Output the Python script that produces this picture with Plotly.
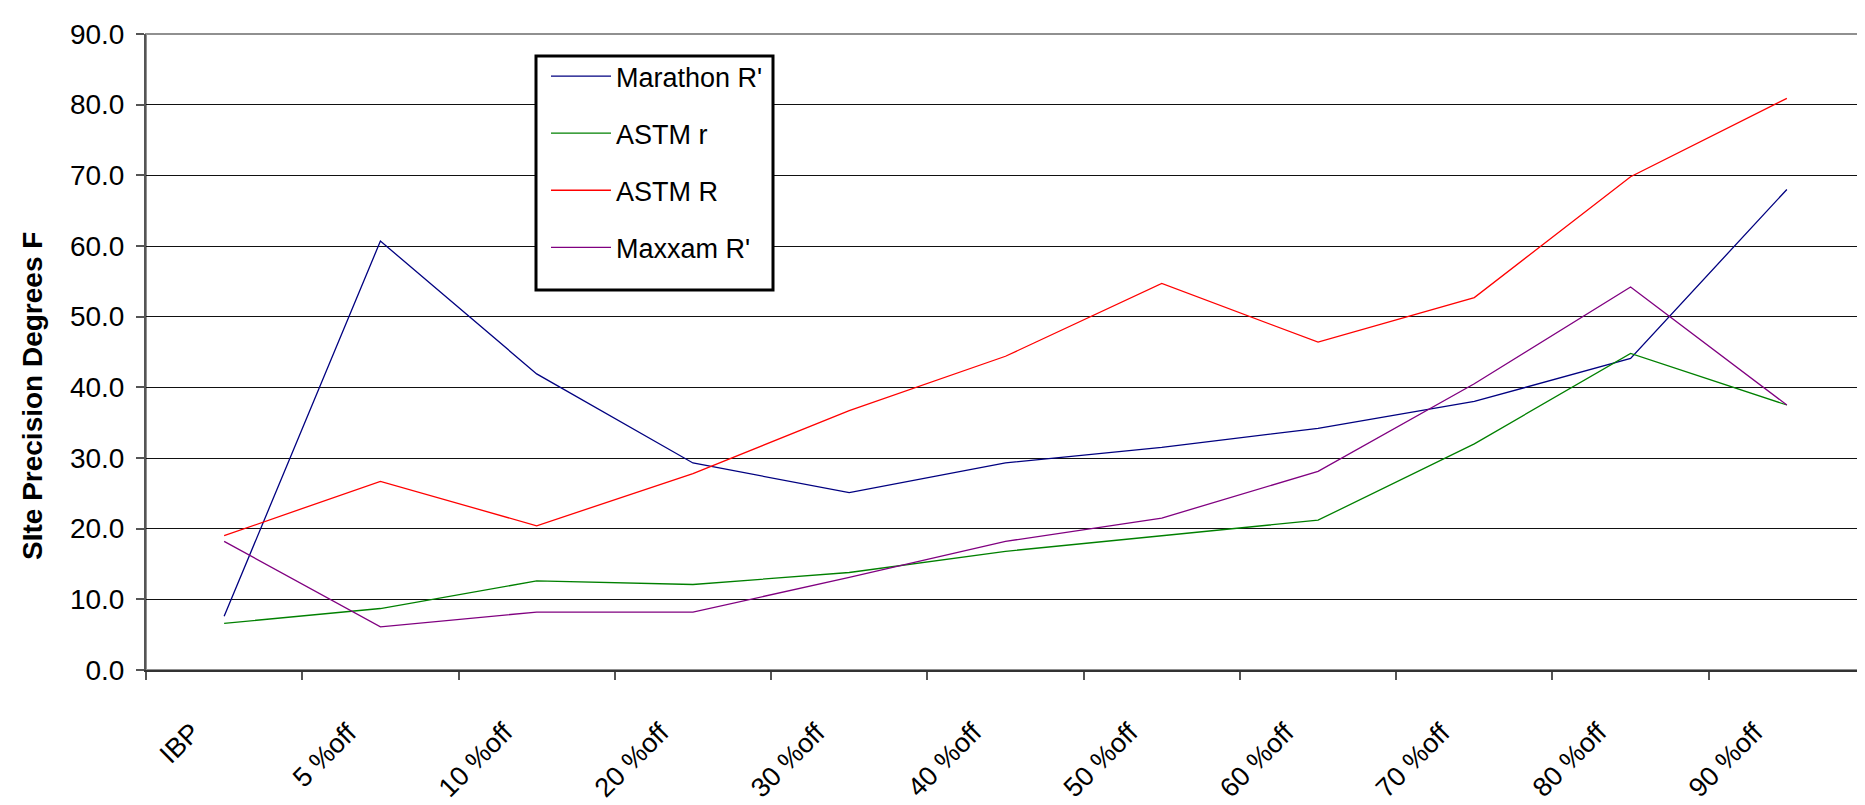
import plotly.graph_objects as go

categories = ["IBP", "5 %off", "10 %off", "20 %off", "30 %off", "40 %off",
              "50 %off", "60 %off", "70 %off", "80 %off", "90 %off"]
marathon_R = [7.6, 60.7, 41.9, 29.3, 25.1, 29.3, 31.5, 34.2, 38.0, 44.1, 68.0]
astm_r = [6.6, 8.7, 12.6, 12.1, 13.8, 16.8, 19.0, 21.2, 32.0, 44.8, 37.5]
astm_R = [19.0, 26.7, 20.4, 27.8, 36.7, 44.4, 54.7, 46.4, 52.7, 69.8, 80.9]
maxxam_R = [18.2, 6.1, 8.2, 8.2, 13.1, 18.2, 21.5, 28.1, 40.5, 54.2, 37.5]

series = [
    ("Marathon R'", marathon_R, "#000080"),
    ("ASTM r", astm_r, "#008000"),
    ("ASTM R", astm_R, "#FF0000"),
    ("Maxxam R'", maxxam_R, "#800080"),
]

FONT = "Liberation Sans, Arial, sans-serif"

W, H = 1865, 805
L, R, T, B = 138, 8, 26, 143
pw, ph = W - L - R, H - T - B

def px_x(x):
    return (x - L) / pw

def px_y(y):
    return (H - B - y) / ph

fig = go.Figure()
for i, (name, vals, color) in enumerate(series):
    fig.add_trace(go.Scatter(
        x=categories, y=vals, mode="lines", name=name,
        line=dict(color=color, width=1.3), legendgroup=str(i),
    ))

# plot-area frame (gray) and legend box
fig.add_shape(type="rect", xref="paper", yref="paper", x0=0, x1=1, y0=0, y1=1,
              line=dict(color="#909090", width=2), layer="below")
fig.add_shape(type="rect", xref="paper", yref="paper",
              x0=px_x(528), x1=px_x(765), y0=px_y(282), y1=px_y(48),
              line=dict(color="black", width=3), fillcolor="white", layer="above")

# y-axis title (annotation to match its off-centre position)
fig.add_annotation(
    text="<b>SIte Precision Degrees F</b>", textangle=-90,
    xref="paper", yref="paper", x=px_x(24), y=px_y(388),
    xanchor="center", yanchor="middle", showarrow=False,
    font=dict(family=FONT, size=28, color="black"),
)

# rotated category labels
for c in categories:
    fig.add_annotation(
        text=c, textangle=-45, xref="x", yref="paper", x=c, y=0,
        xanchor="right", yanchor="top", xshift=-15, yshift=-44,
        showarrow=False, font=dict(family=FONT, size=27, color="black"),
    )

fig.update_layout(
    width=W, height=H,
    margin=dict(l=L, r=R, t=T, b=B),
    paper_bgcolor="white", plot_bgcolor="white",
    font=dict(family=FONT, size=28, color="black"),
    showlegend=True,
    legend=dict(
        x=px_x(538), y=px_y(44), xanchor="left", yanchor="top",
        bgcolor="rgba(0,0,0,0)", borderwidth=0,
        font=dict(family=FONT, size=27, color="black"),
        tracegroupgap=19, itemwidth=60,
    ),
    xaxis=dict(
        type="category", range=[-0.5, 10.5],
        tickson="boundaries", ticks="outside", ticklen=8,
        tickcolor="#555", tickwidth=2, showticklabels=False,
        showline=True, linecolor="#333", linewidth=2,
        showgrid=False,
    ),
    yaxis=dict(
        range=[0, 90], dtick=10, tickformat=".1f",
        ticks="outside", ticklen=8, tickcolor="#555", tickwidth=2,
        showline=True, linecolor="#555", linewidth=2,
        showgrid=True, gridcolor="#111", gridwidth=1,
        zeroline=False,
        tickfont=dict(family=FONT, size=28),
        ticklabelstandoff=6,
    ),
)

fig.write_html("out.html")
